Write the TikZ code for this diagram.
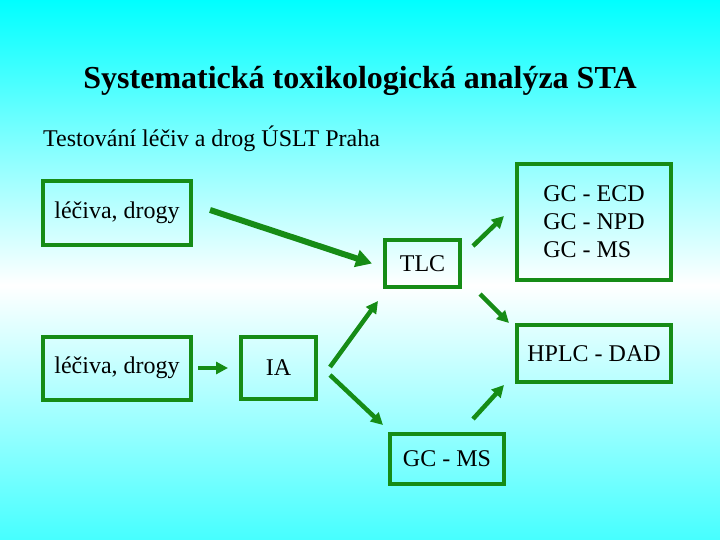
\documentclass[tikz,border=0pt]{standalone}
\usepackage{fontspec}
\setmainfont{Liberation Serif}
\usetikzlibrary{arrows.meta}
\definecolor{boxgreen}{RGB}{22,140,22}
\definecolor{topcyan}{RGB}{0,255,255}
\definecolor{lowcyan}{RGB}{70,255,255}
\begin{document}
\begin{tikzpicture}[x=1pt, y=-1pt, >={Triangle[length=12pt,width=12pt]},
        box/.style={draw=boxgreen, line width=4pt, inner sep=0pt, font=\fontsize{24}{28}\selectfont},
        arr/.style={->, color=boxgreen, line width=4.5pt},
        bigarr/.style={-{Triangle[length=16pt,width=17pt]}, color=boxgreen, line width=6pt}]
        \useasboundingbox (0,0) rectangle (720,540);
        \shade[top color=topcyan, bottom color=white] (0,0) rectangle (720,285);
        \shade[top color=white, bottom color=lowcyan] (0,285) rectangle (720,540);
        \node[font=\fontsize{32}{38}\selectfont\bfseries, anchor=base] (title) at (360,89) {Systematická toxikologická analýza STA};
        \node[font=\fontsize{24}{28}\selectfont, anchor=base west, inner sep=0pt] (subtitle) at (43,147) {Testování léčiv a drog ÚSLT Praha};
        \node[box, minimum width=148pt, minimum height=64pt] (drugA) at (117,213) {léčiva, drogy};
        \node[box, minimum width=148pt, minimum height=63pt] (drugB) at (117,368) {léčiva, drogy};
        \node[box, minimum width=75pt, minimum height=62pt] (ia) at (278.5,368) {IA};
        \node[box, minimum width=75pt, minimum height=47pt] (tlc) at (422.5,263.5) {TLC};
        \node[box, minimum width=154pt, minimum height=116pt, align=left] (ecd) at (594,222) {GC - ECD\\GC - NPD\\GC - MS};
        \node[box, minimum width=154pt, minimum height=57pt] (hplc) at (594,353.5) {HPLC - DAD};
        \node[box, minimum width=114pt, minimum height=50pt] (gcms) at (447,459) {GC - MS};
        \draw[bigarr] ([xshift=17pt,yshift=3pt]drugA.east) -- ([xshift=-11pt]tlc.west);
        \draw[arr] ([xshift=5pt]drugB.east) -- ([xshift=-11pt]ia.west);
        \draw[arr] ([xshift=12pt,yshift=1pt]ia.east) -- ([xshift=-5pt,yshift=-12pt]tlc.south west);
        \draw[arr] ([xshift=12pt,yshift=-7pt]ia.east) -- ([xshift=-5pt,yshift=7pt]gcms.north west);
        \draw[arr] ([xshift=11pt,yshift=-8pt]tlc.north east) -- ([xshift=-11pt,yshift=6pt]ecd.west);
        \draw[arr] ([xshift=18pt,yshift=-5pt]tlc.south east) -- ([xshift=-6pt]hplc.north west);
        \draw[arr] ([xshift=-33pt,yshift=13pt]gcms.north east) -- ([xshift=-11pt,yshift=-1pt]hplc.south west);
\end{tikzpicture}
\end{document}
